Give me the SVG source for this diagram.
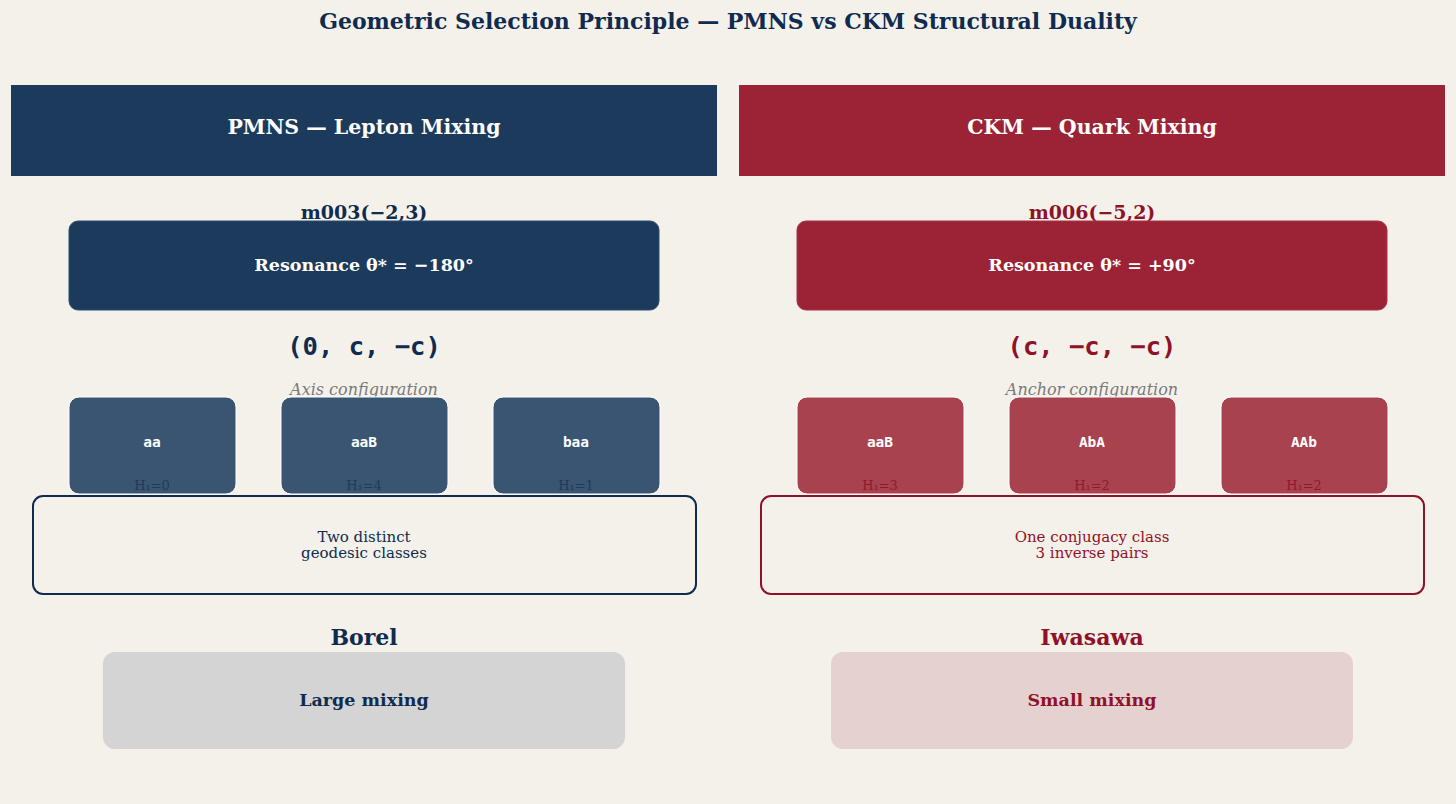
<svg xmlns="http://www.w3.org/2000/svg" width="1456" height="804" viewBox="0 0 1456 804">
<style>
.serif{font-family:"DejaVu Serif","Liberation Serif",serif}
.mono{font-family:"DejaVu Sans Mono","Liberation Mono",monospace;font-weight:bold}
.b{font-weight:bold}
.c{text-anchor:middle;dominant-baseline:central}
.navy{fill:#0f2b4f}
.red{fill:#8f1228}
.sm{stroke:#fff;stroke-width:1}
</style>
<rect width="1456" height="804" fill="#f4f1ea"/>
<text class="serif b c navy" x="728" y="21" font-size="22">Geometric Selection Principle — PMNS vs CKM Structural Duality</text>

<g id="pmns-header"><rect x="11" y="85" width="706" height="91" fill="#1b3a5c"/><text class="serif b c" x="364" y="127" font-size="20.5" fill="#fff">PMNS — Lepton Mixing</text></g>
<g id="ckm-header"><rect x="739" y="85" width="706" height="91" fill="#9b2335"/><text class="serif b c" x="1092" y="127" font-size="20.5" fill="#fff">CKM — Quark Mixing</text></g>

<g id="pmns-resonance"><text class="serif b c navy" x="364" y="212" font-size="19">m003(−2,3)</text><rect x="69" y="221" width="590" height="89" rx="9" fill="#1b3a5c" stroke="#2d4d70" stroke-width="1"/><text class="serif b c" x="364" y="265" font-size="17.5" fill="#fff">Resonance θ* = −180°</text></g>
<g id="ckm-resonance"><text class="serif b c red" x="1092" y="212" font-size="19">m006(−5,2)</text><rect x="797" y="221" width="590" height="89" rx="9" fill="#9b2335" stroke="#a83446" stroke-width="1"/><text class="serif b c" x="1092" y="265" font-size="17.5" fill="#fff">Resonance θ* = +90°</text></g>

<g id="pmns-config"><text class="mono c navy" x="364" y="346" font-size="25.5">(0, c, −c)</text><text class="serif c" x="364" y="389" font-size="16" font-style="italic" fill="#7a7a7a">Axis configuration</text></g>
<g id="ckm-config"><text class="mono c red" x="1092" y="346" font-size="25.5">(c, −c, −c)</text><text class="serif c" x="1092" y="389" font-size="16" font-style="italic" fill="#7a7a7a">Anchor configuration</text></g>

<g id="pmns-aa"><rect class="sm" x="69" y="397" width="167" height="97" rx="10" fill="#3a5571"/><text class="mono c" x="152" y="442" font-size="14.5" fill="#fff">aa</text><text class="serif c" x="152" y="485" font-size="13" fill="#1e3a5c">H₁=0</text></g>
<g id="pmns-aaB"><rect class="sm" x="281" y="397" width="167" height="97" rx="10" fill="#3a5571"/><text class="mono c" x="364" y="442" font-size="14.5" fill="#fff">aaB</text><text class="serif c" x="364" y="485" font-size="13" fill="#1e3a5c">H₁=4</text></g>
<g id="pmns-baa"><rect class="sm" x="493" y="397" width="167" height="97" rx="10" fill="#3a5571"/><text class="mono c" x="576" y="442" font-size="14.5" fill="#fff">baa</text><text class="serif c" x="576" y="485" font-size="13" fill="#1e3a5c">H₁=1</text></g>

<g id="ckm-aaB"><rect class="sm" x="797" y="397" width="167" height="97" rx="10" fill="#a8424f"/><text class="mono c" x="880" y="442" font-size="14.5" fill="#fff">aaB</text><text class="serif c" x="880" y="485" font-size="13" fill="#8f1a2c">H₁=3</text></g>
<g id="ckm-AbA"><rect class="sm" x="1009" y="397" width="167" height="97" rx="10" fill="#a8424f"/><text class="mono c" x="1092" y="442" font-size="14.5" fill="#fff">AbA</text><text class="serif c" x="1092" y="485" font-size="13" fill="#8f1a2c">H₁=2</text></g>
<g id="ckm-AAb"><rect class="sm" x="1221" y="397" width="167" height="97" rx="10" fill="#a8424f"/><text class="mono c" x="1304" y="442" font-size="14.5" fill="#fff">AAb</text><text class="serif c" x="1304" y="485" font-size="13" fill="#8f1a2c">H₁=2</text></g>

<g id="pmns-classes"><rect x="33" y="496" width="663" height="98" rx="10" fill="#f4f1ea" stroke="#0f2b4f" stroke-width="2"/><text class="serif c navy" x="364" y="537" font-size="15">Two distinct</text><text class="serif c navy" x="364" y="553" font-size="15">geodesic classes</text></g>
<g id="ckm-classes"><rect x="761" y="496" width="663" height="98" rx="10" fill="#f4f1ea" stroke="#8f1228" stroke-width="2"/><text class="serif c red" x="1092" y="537" font-size="15">One conjugacy class</text><text class="serif c red" x="1092" y="553" font-size="15">3 inverse pairs</text></g>

<g id="pmns-borel"><text class="serif b c navy" x="364" y="637" font-size="22">Borel</text><rect x="103" y="652" width="522" height="97" rx="12" fill="#d3d4d3"/><text class="serif b c navy" x="364" y="700" font-size="17.5">Large mixing</text></g>
<g id="ckm-iwasawa"><text class="serif b c red" x="1092" y="637" font-size="22">Iwasawa</text><rect x="831" y="652" width="522" height="97" rx="12" fill="#e5d1cf"/><text class="serif b c red" x="1092" y="700" font-size="17.5">Small mixing</text></g>
<g id="connectors"></g>
</svg>
